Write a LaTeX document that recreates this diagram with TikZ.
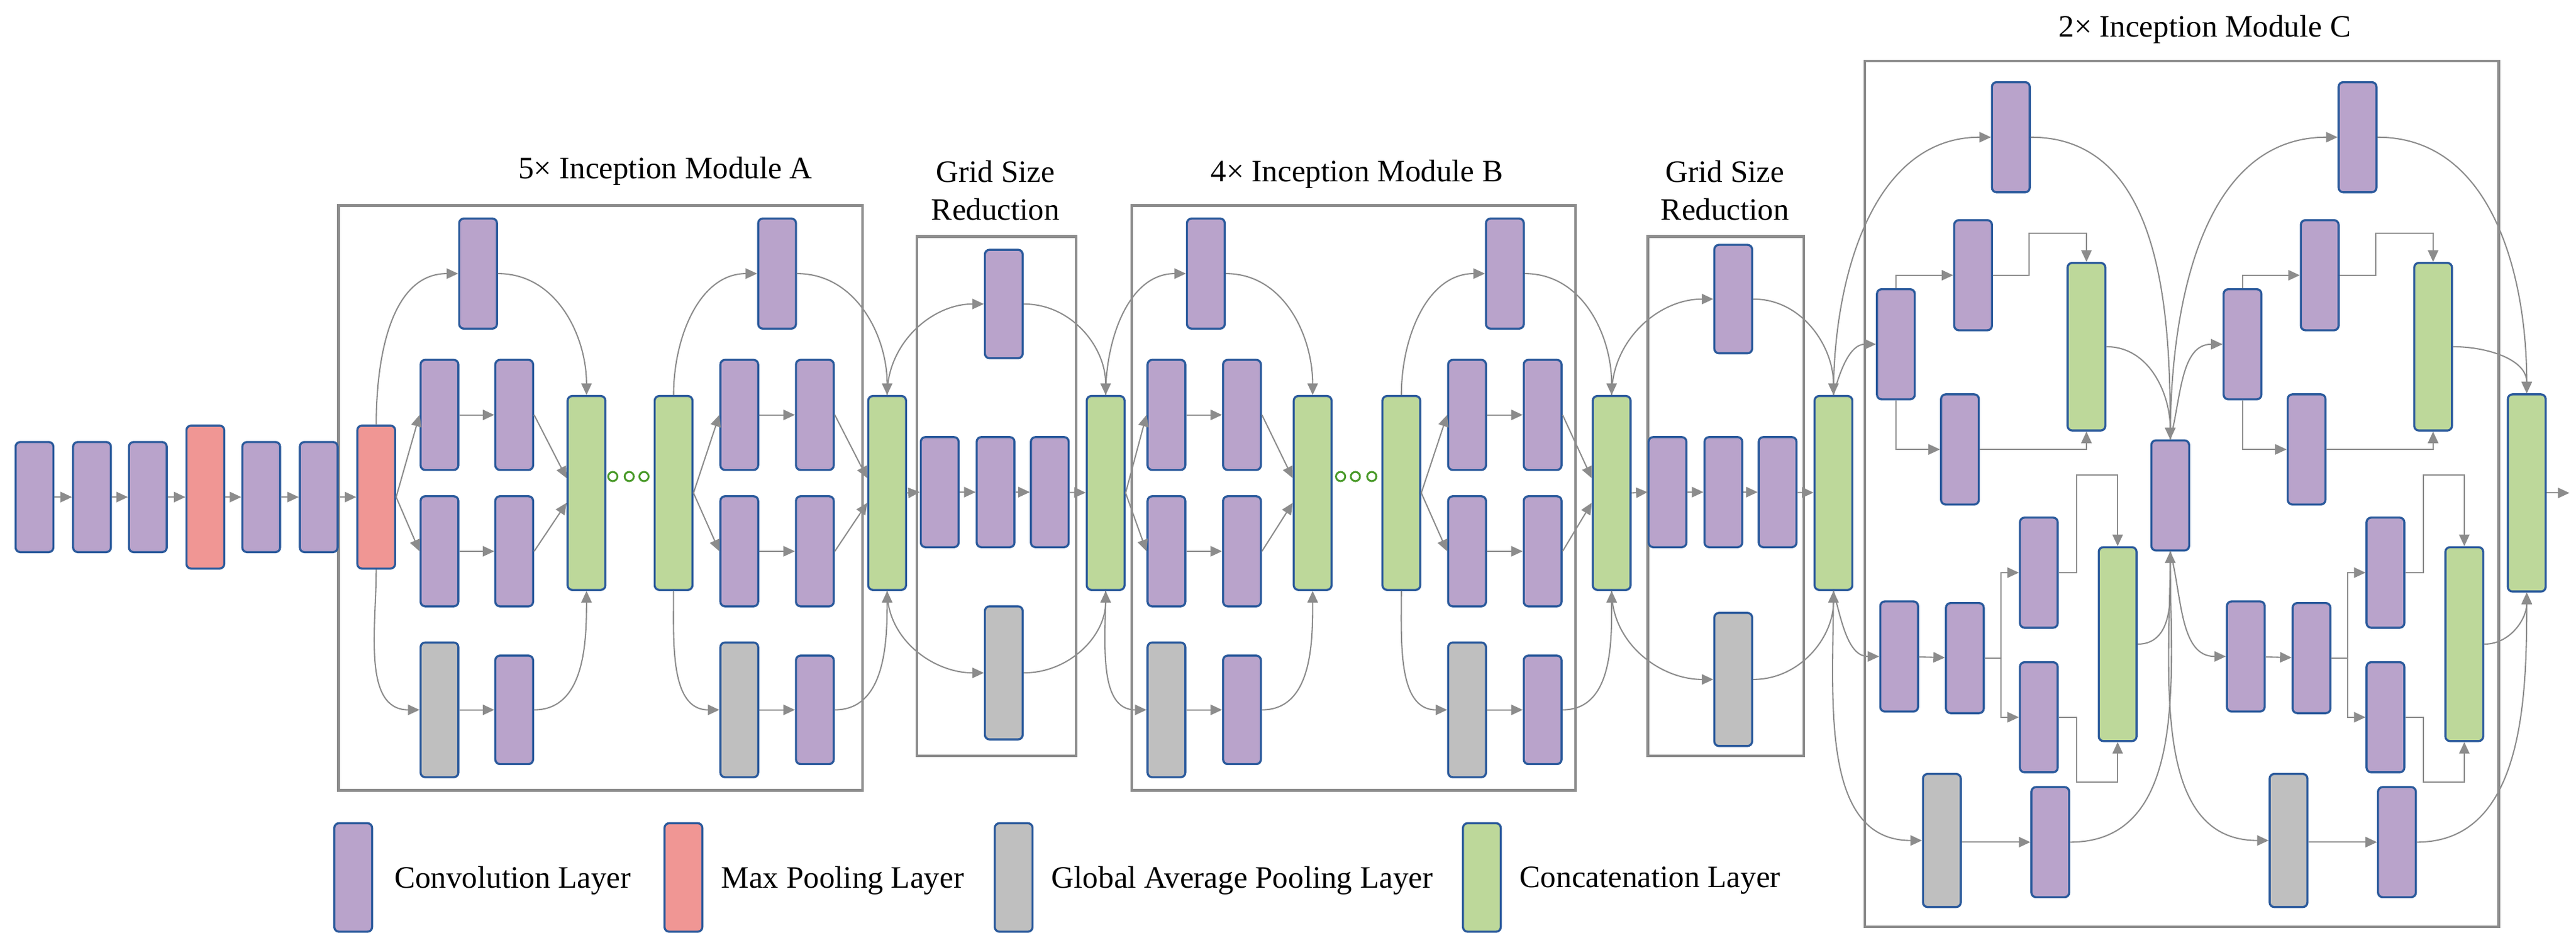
\documentclass[tikz,border=0pt]{standalone}
\usepackage{fontspec}
\setmainfont{Liberation Serif}
\usetikzlibrary{arrows.meta,calc}
\definecolor{cpur}{HTML}{B9A3CB}
\definecolor{cred}{HTML}{F09694}
\definecolor{cgry}{HTML}{BFBFBF}
\definecolor{cgrn}{HTML}{BDD89A}
\definecolor{bord}{HTML}{2B5A9C}
\definecolor{lgr}{HTML}{8C8C8C}
\definecolor{dotg}{HTML}{4A9A2A}
\newcommand\blk[5]{%
  \pgfmathsetmacro\cx{#3}\pgfmathsetmacro\cy{(#4+#5)/2}\pgfmathsetmacro\hh{(#5-#4)*0.05}%
  \node[#2, minimum height=\hh cm] (#1) at (\cx,\cy) {};}
\newcommand\incb[6]{%
  \blk{#1t}{conv}{#3}{133}{200}
  \blk{#1a2}{conv}{#4}{219}{286}
  \blk{#1b2}{conv}{#5}{219}{286}
  \blk{#1a3}{conv}{#4}{302}{369}
  \blk{#1b3}{conv}{#5}{302}{369}
  \blk{#1g}{gap}{#4}{391}{473}
  \blk{#1b}{conv}{#5}{399}{465}
  \blk{#1c}{cat}{#6}{241}{359}
  \draw[arr] (#2.north) to[out=90,in=180] (#1t.west);
  \draw[arr] (#2.east) -- (#1a2.west);
  \draw[arr] (#2.east) -- (#1a3.west);
  \draw[arr] (#2.south) to[out=-90,in=180] (#1g.west);
  \draw[arr] (#1a2) -- (#1b2);
  \draw[arr] (#1a3) -- (#1b3);
  \draw[arr] (#1g.east|-#1b.west) -- (#1b.west);
  \draw[arr] (#1b2.east) -- ($(#1c.west)+(0,-9)$);
  \draw[arr] (#1b3.east) -- ($(#1c.west)+(0,6)$);
  \draw[arr] (#1t.east) to[out=0,in=90] (#1c.north);
  \draw[arr] (#1b.east) to[out=0,in=-90] (#1c.south);}
\newcommand\gridb[9]{%
  \blk{#1t}{conv}{#3}{#8}{#8+66}
  \blk{#1m1}{conv}{#4}{266}{333}
  \blk{#1m2}{conv}{#5}{266}{333}
  \blk{#1m3}{conv}{#6}{266}{333}
  \blk{#1g}{gap}{#3}{#9}{#9+81}
  \blk{#1c}{cat}{#7}{241}{359}
  \draw[arr] (#2.north) to[out=90,in=180] (#1t.west);
  \draw[arr] (#2.east) -- (#1m1.west);
  \draw[arr] (#2.south) to[out=-90,in=180] (#1g.west);
  \draw[arr] (#1m1) -- (#1m2);
  \draw[arr] (#1m2) -- (#1m3);
  \draw[arr] (#1m3) -- (#1c);
  \draw[arr] (#1t.east) to[out=0,in=90] (#1c.north);
  \draw[arr] (#1g.east) to[out=0,in=-90] (#1c.south);}
\begin{document}
\begin{tikzpicture}[x=0.05cm,y=-0.05cm,
  lay/.style={rectangle,rounded corners=4pt,draw=bord,line width=1.8pt,minimum width=1.15cm,inner sep=0pt},
  conv/.style={lay,fill=cpur},
  pool/.style={lay,fill=cred},
  gap/.style={lay,fill=cgry},
  cat/.style={lay,fill=cgrn},
  arr/.style={draw=lgr,line width=1.1pt,-{Triangle[length=10pt,width=9pt]},color=lgr},
  ln/.style={draw=lgr,line width=1.1pt},
  frame/.style={draw=lgr,line width=2.2pt},
  ttl/.style={font=\fontsize{27}{33}\selectfont,align=center,inner sep=0pt},
  dot/.style={circle,draw=dotg,line width=1.6pt,fill=white,minimum size=0.28cm,inner sep=0pt}]
\useasboundingbox (0,0) rectangle (1568,578);
% frames
\draw[frame] (206,125) rectangle (525,481);
\draw[frame] (558,144) rectangle (655,460);
\draw[frame] (689,125) rectangle (959,481);
\draw[frame] (1003,144) rectangle (1098,460);
\draw[frame] (1135,37) rectangle (1521,564);
% titles
\node[ttl] (tA) at (405,104) {5× Inception Module A};
\node[ttl] (tG1) at (606,116) {Grid Size\\Reduction};
\node[ttl] (tB) at (826,106) {4× Inception Module B};
\node[ttl] (tG2) at (1050,116) {Grid Size\\Reduction};
\node[ttl] (tC) at (1342,18) {2× Inception Module C};
% stem
\blk{s1}{conv}{21}{269}{336}
\blk{s2}{conv}{56}{269}{336}
\blk{s3}{conv}{90}{269}{336}
\blk{s4}{pool}{125}{259}{346}
\blk{s5}{conv}{159}{269}{336}
\blk{s6}{conv}{194}{269}{336}
\blk{s7}{pool}{229}{259}{346}
\foreach \a/\b in {s1/s2,s2/s3,s3/s4,s4/s5,s5/s6,s6/s7}{\draw[arr] (\a) -- (\b);}
% module A
\incb{Aa}{s7}{291}{267.5}{313}{357}
\node[dot] (d1) at (373,290) {};
\node[dot] (d2) at (383,290) {};
\node[dot] (d3) at (392,290) {};
\blk{Ain}{cat}{410}{241}{359}
\incb{Ab}{Ain}{473}{450}{496}{540}
% grid 1
\gridb{R1}{Abc}{611}{572}{606}{639}{673}{152}{369}
% module B
\incb{Ba}{R1c}{734}{710}{756}{799}
\node[dot] (d4) at (816,290) {};
\node[dot] (d5) at (825,290) {};
\node[dot] (d6) at (835,290) {};
\blk{Bin}{cat}{853}{241}{359}
\incb{Bb}{Bin}{916}{893}{939}{981}
% grid 2
\gridb{R2}{Bbc}{1055}{1015}{1049}{1082}{1116}{149}{373}
% module C
\blk{M}{conv}{1321}{268}{335}
\blk{Z}{cat}{1538}{240}{360}
\foreach \p/\dx/\src/\dst in {1/0/R2c/M,2/211/M/Z}{
  \blk{C\p t}{conv}{1224+\dx}{50}{117}
  \blk{C\p A}{conv}{1154+\dx}{176}{243}
  \blk{C\p B}{conv}{1201+\dx}{134}{201}
  \blk{C\p C}{conv}{1193+\dx}{240}{307}
  \blk{C\p g1}{cat}{1270+\dx}{160}{262}
  \blk{C\p D}{conv}{1156+\dx}{366}{433}
  \blk{C\p E}{conv}{1196+\dx}{367}{434}
  \blk{C\p F}{conv}{1241+\dx}{315}{382}
  \blk{C\p G}{conv}{1241+\dx}{403}{470}
  \blk{C\p g2}{cat}{1289+\dx}{333}{451}
  \blk{C\p y}{gap}{1182+\dx}{471}{552}
  \blk{C\p H}{conv}{1248+\dx}{479}{546}
  \draw[arr] (\src.north) to[out=90,in=180] (C\p t.west);
  \draw[arr] (\src.north) to[out=75,in=180] (C\p A.west);
  \draw[arr] (\src.south) to[out=-75,in=180] (C\p D.west);
  \draw[arr] (\src.south) to[out=-90,in=180] (C\p y.west);
  \draw[arr] (C\p A.north) |- (C\p B.west);
  \draw[arr] (C\p A.south) |- (C\p C.west);
  \draw[arr] (C\p B.east) -| ({1235+\dx},142) -| (C\p g1.north);
  \draw[arr] (C\p C.east) -| (C\p g1.south);
  \draw[arr] (C\p D) -- (C\p E);
  \draw[ln] (C\p E.east) -- ++(10,0) coordinate (C\p br);
  \draw[arr] (C\p br) |- (C\p F.west);
  \draw[arr] (C\p br) |- (C\p G.west);
  \draw[arr] (C\p F.east) -| ({1264+\dx},289) -| (C\p g2.north);
  \draw[arr] (C\p G.east) -| ({1264+\dx},476) -| (C\p g2.south);
  \draw[arr] (C\p y.east|-C\p H.west) -- (C\p H.west);
  \draw[arr] (C\p t.east) to[out=0,in=90] (\dst.north);
  \draw[arr] (C\p g1.east) to[out=0,in=90] (\dst.north);
  \draw[arr] (C\p g2.east) to[out=0,in=-90] (\dst.south);
  \draw[arr] (C\p H.east) to[out=0,in=-90] (\dst.south);
}
\coordinate (out) at (1564,300);
\draw[arr] (Z.east) -- (out);
% legend
\blk{L1}{conv}{215}{501}{567}
\blk{L2}{pool}{416}{501}{567}
\blk{L3}{gap}{617}{501}{567}
\blk{L4}{cat}{902}{501}{567}
\node[ttl,anchor=west] (T1) at (240,536) {Convolution Layer};
\node[ttl,anchor=west] (T2) at (439,536) {Max Pooling Layer};
\node[ttl,anchor=west] (T3) at (640,536) {Global Average Pooling Layer};
\node[ttl,anchor=west] (T4) at (925,536) {Concatenation Layer};
\end{tikzpicture}
\end{document}
